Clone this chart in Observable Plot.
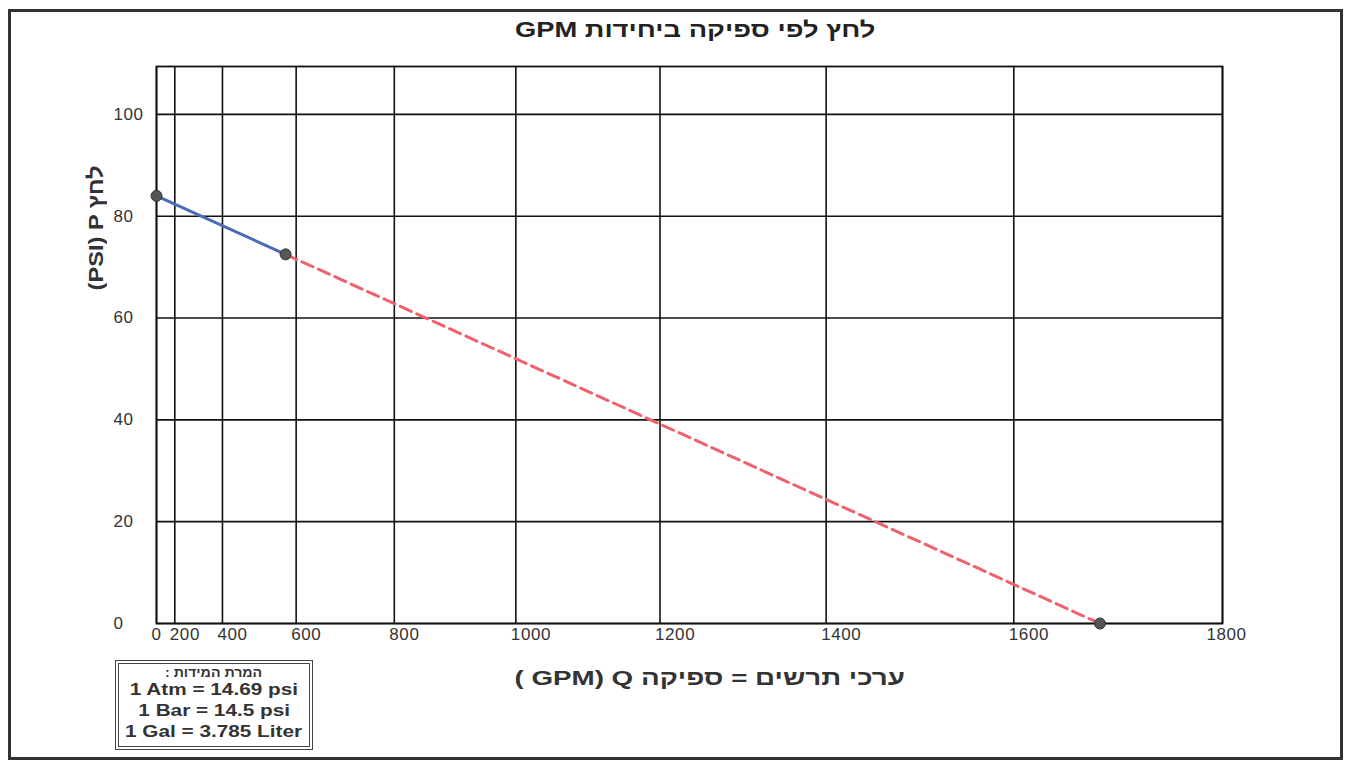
<!DOCTYPE html>
<html>
<head>
<meta charset="utf-8">
<script src="https://cdn.jsdelivr.net/npm/d3@7"></script>
<script src="https://cdn.jsdelivr.net/npm/@observablehq/plot@0.6"></script>
<style>
  html, body { margin: 0; padding: 0; background: #fff; }
  body { width: 1348px; height: 760px; position: relative; overflow: hidden; font-family: "Liberation Sans", Arial, sans-serif; color: #222; }
  #frame { position: absolute; left: 8px; top: 9px; width: 1329px; height: 745px; border: 3px solid #333; }
  #chart { position: absolute; left: 0; top: 0; }
  #chart svg text { letter-spacing: 0.6px; }
  .fit { display: inline-block; white-space: nowrap; transform-origin: center center; }
  #title { position: absolute; left: 0; width: 1390px; top: 17px; text-align: center; font-size: 22px; font-weight: bold; color: #222; }
  #xlabel { position: absolute; left: 410px; width: 600px; top: 666px; text-align: center; font-size: 21px; font-weight: bold; color: #333; }
  #ylabel { position: absolute; left: 96px; top: 228px; transform: translate(-50%, -50%) rotate(-90deg); white-space: nowrap; font-size: 21px; font-weight: bold; color: #333; }
  #legend { position: absolute; left: 115px; top: 660px; width: 190px; height: 82px; border: 4px double #444; text-align: center; font-weight: bold; color: #333; }
  #legend .h { font-size: 13px; line-height: 13px; margin-top: 2px; }
  #legend .r { font-size: 17px; line-height: 21px; }
</style>
</head>
<body>
<div id="frame"></div>
<div id="chart"></div>
<div id="title"><span class="fit" data-w="360" dir="rtl">לחץ לפי ספיקה ביחידות GPM</span></div>
<div id="ylabel"><span class="fit" data-w="125" dir="ltr">(PSI) P לחץ</span></div>
<div id="xlabel"><span class="fit" data-w="390" dir="ltr">( GPM) Q ערכי תרשים = ספיקה</span></div>
<div id="legend">
  <div class="h"><span class="fit" data-w="97" dir="rtl">המרת המידות :</span></div>
  <div class="r"><span class="fit" data-s="1.22">1 Atm = 14.69 psi</span></div>
  <div class="r"><span class="fit" data-s="1.22">1 Bar = 14.5 psi</span></div>
  <div class="r"><span class="fit" data-s="1.22">1 Gal = 3.785 Liter</span></div>
</div>
<script>
// Data
const xTicks = [0, 200, 400, 600, 800, 1000, 1200, 1400, 1600, 1800];
const yTicks = [0, 20, 40, 60, 80, 100];
const measuredQ = [0, 575];
const measuredP = [84, 72.5];
const projectedQ = [575, 1685];
const projectedP = [72.5, 0];
const pointQ = [0, 575, 1685];
const pointP = [84, 72.5, 0];

const measured = measuredQ.map((q, i) => ({q, p: measuredP[i]}));
const projected = projectedQ.map((q, i) => ({q, p: projectedP[i]}));
const points = pointQ.map((q, i) => ({q, p: pointP[i]}));
const fmt = d => String(d);

const chart = Plot.plot({
  width: 1348,
  height: 760,
  marginLeft: 156,
  marginRight: 126,
  marginTop: 66,
  marginBottom: 137,
  style: { fontFamily: "Liberation Sans, Arial, sans-serif", fontSize: "17px", color: "#333", background: "transparent" },
  x: { type: "pow", exponent: 1.85, domain: [0, 1800] },
  y: { domain: [0, 109.4] },
  marks: [
    Plot.gridX(xTicks, { stroke: "#111", strokeOpacity: 1, strokeWidth: 1.6 }),
    Plot.gridY(yTicks, { stroke: "#111", strokeOpacity: 1, strokeWidth: 1.6 }),
    Plot.frame({ stroke: "#111", strokeWidth: 1.8 }),
    Plot.axisX(xTicks.slice(0, -1), { tickSize: 0, tickPadding: 4, textAnchor: "start", dx: -5, fontSize: 17, tickFormat: fmt, label: null }),
    Plot.axisX(xTicks.slice(-1), { tickSize: 0, tickPadding: 4, textAnchor: "middle", dx: 4, fontSize: 17, tickFormat: fmt, label: null }),
    Plot.axisY(yTicks, { tickSize: 0, tickPadding: 0, textAnchor: "start", dx: -43, fontSize: 17, tickFormat: fmt, label: null }),
    Plot.line(projected, { x: "q", y: "p", stroke: "#f0616b", strokeWidth: 3, strokeDasharray: "12,6" }),
    Plot.line(measured, { x: "q", y: "p", stroke: "#4a6bb5", strokeWidth: 3 }),
    Plot.dot(points, { x: "q", y: "p", r: 5.5, fill: "#555", stroke: "#333", strokeWidth: 1 })
  ]
});
document.getElementById("chart").appendChild(chart);

// stretch text to match the reference's wide lettering (offsetWidth ignores transforms)
document.querySelectorAll(".fit").forEach(el => {
  const w = el.offsetWidth;
  const s = el.dataset.s ? +el.dataset.s : (+el.dataset.w / w);
  el.style.transform = `scaleX(${s})`;
});
</script>
</body>
</html>
